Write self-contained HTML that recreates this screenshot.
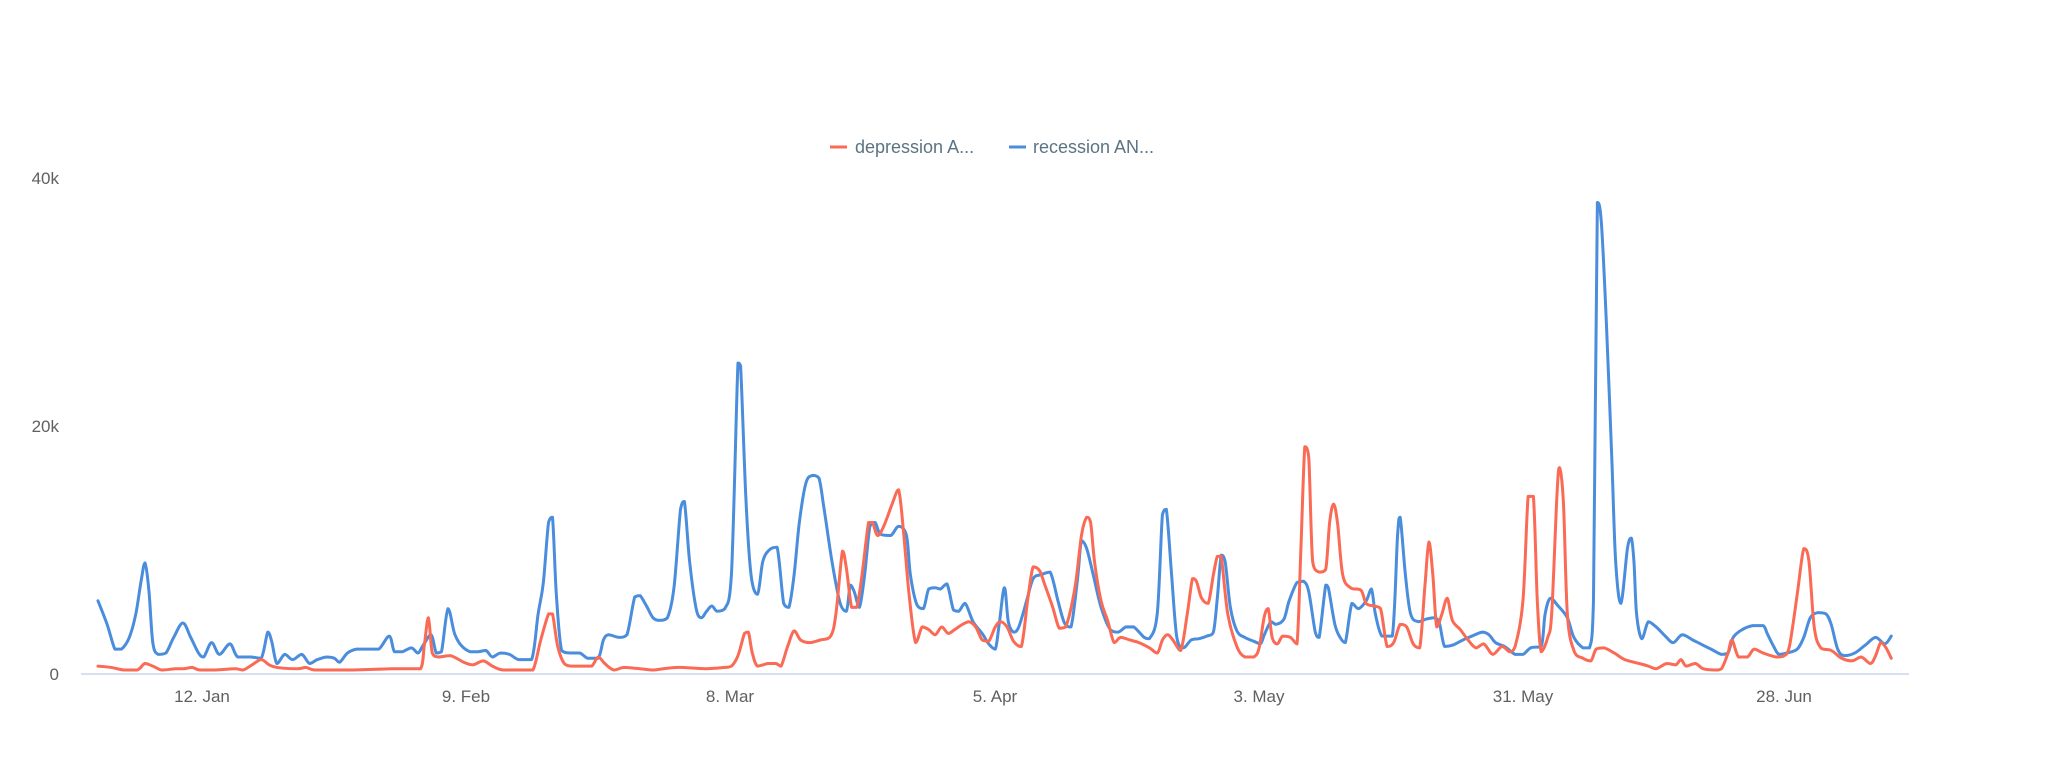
<!DOCTYPE html>
<html><head><meta charset="utf-8"><style>
html,body{margin:0;padding:0;background:#fff;}
svg{display:block;font-family:"Liberation Sans","DejaVu Sans",sans-serif;}
</style></head><body>
<svg id="s" width="2048" height="774" viewBox="0 0 2048 774" xmlns="http://www.w3.org/2000/svg">
<rect width="2048" height="774" fill="#fff"/>
<g font-size="17" fill="#606060">
<text x="59" y="184" text-anchor="end">40k</text>
<text x="59" y="432" text-anchor="end">20k</text>
<text x="59" y="680" text-anchor="end">0</text>
</g>
<line x1="81" y1="674" x2="1909" y2="674" stroke="#ccd6eb" stroke-width="1.5"/>
<g font-size="17" fill="#606060" text-anchor="middle">
<text x="202" y="702">12. Jan</text>
<text x="466" y="702">9. Feb</text>
<text x="730" y="702">8. Mar</text>
<text x="995" y="702">5. Apr</text>
<text x="1259" y="702">3. May</text>
<text x="1523" y="702">31. May</text>
<text x="1784" y="702">28. Jun</text>
</g>
<g font-size="18" fill="#5b7383">
<line x1="830" y1="147" x2="847" y2="147" stroke="#fa6a55" stroke-width="3"/>
<text x="855" y="153">depression A...</text>
<line x1="1009" y1="147" x2="1026" y2="147" stroke="#4a8ddc" stroke-width="3"/>
<text x="1033" y="153">recession AN...</text>
</g>
<g transform="scale(1.30612)" fill="none" stroke-width="2.3" stroke-linejoin="round" stroke-linecap="round">
<path id="b" stroke="#4a8ddc"/>
<path id="r" stroke="#fa6a55"/>
</g>
</svg>
<script>
var B=[75,460,82,478,88,497,93,497,99,488,104,470,108,445,111,431,114,452,117,492,121,501,127,500,133,488,140,477,146,488,152,500,156,503,162,492,168,501,176,493,182,503,192,503,200,504,205,484,208,491,212,508,218,501,224,505,231,501,237,508,243,505,250,503,256,504,260,507,266,500,273,497,282,497,290,497,298,487,302,499,308,499,315,496,320,500,324,494,330,486,334,500,338,499,343,466,348,485,353,494,360,499,366,499,372,498,377,503,383,500,390,501,397,505,407,505,412,470,416,446,420,400,423,396,426,456,430,498,437,500,444,500,450,504,458,504,462,490,466,486,474,488,480,486,486,457,490,456,495,464,500,473,505,475,511,473,516,450,521,390,524,384,528,430,533,466,537,473,541,468,545,464,549,468,555,466,560,440,565,278,567,280,571,380,575,440,580,455,584,430,589,421,595,419,600,462,604,465,608,440,612,400,617,370,622,364,627,366,631,390,637,430,643,461,648,468,651,448,654,453,658,465,662,440,666,403,670,400,674,409,682,410,688,403,694,410,697,440,702,463,707,466,711,451,716,450,720,451,725,447,730,467,734,468,739,462,745,476,752,485,757,493,762,497,765,478,769,450,772,476,776,484,780,480,786,460,791,443,797,440,804,438,810,460,815,477,820,480,825,443,828,414,832,420,837,440,843,465,850,482,856,484,862,480,868,480,876,488,880,489,886,470,890,394,893,390,897,440,901,488,906,496,912,490,918,489,924,487,929,484,932,458,935,425,938,430,942,465,947,483,953,488,960,491,965,493,968,486,973,476,977,478,983,474,987,460,993,446,998,445,1002,453,1007,484,1010,488,1015,448,1017,450,1022,478,1026,488,1030,492,1035,462,1040,466,1046,460,1050,451,1053,470,1058,487,1066,487,1070,410,1072,396,1076,440,1080,470,1086,476,1092,474,1098,473,1102,477,1106,495,1112,494,1120,490,1127,487,1135,484,1140,486,1145,492,1152,495,1160,501,1166,501,1172,496,1180,495,1183,470,1187,458,1193,464,1200,473,1205,488,1212,496,1217,496,1220,460,1223,155,1226,170,1230,250,1234,350,1237,430,1241,462,1246,420,1249,412,1251,430,1253,470,1257,489,1262,476,1268,480,1275,487,1281,492,1288,486,1296,490,1302,493,1310,497,1318,501,1323,500,1327,488,1334,482,1342,479,1350,479,1353,485,1358,495,1362,501,1368,500,1376,497,1381,488,1386,473,1392,469,1398,470,1402,478,1407,497,1412,502,1420,500,1428,494,1436,488,1443,493,1448,487];
var R=[75,510,85,511,95,513,105,513,111,508,117,510,124,513,134,512,141,512,147,511,153,513,165,513,180,512,186,513,193,509,200,505,206,509,212,511,228,512,234,511,241,513,258,513,270,513,300,512,312,512,322,512,325,493,328,473,331,500,336,503,345,502,355,507,362,509,370,506,377,510,385,513,400,513,408,513,414,490,420,470,423,470,427,495,432,508,438,510,446,510,453,510,458,503,463,508,470,513,478,511,490,512,500,513,508,512,520,511,540,512,555,511,560,510,565,502,570,485,573,484,576,500,580,510,588,508,594,508,598,510,603,495,608,483,613,490,620,492,628,490,636,487,640,470,645,422,648,435,652,465,656,465,660,440,665,400,668,400,672,410,677,402,683,386,688,375,692,410,696,455,701,492,706,480,711,482,716,486,721,480,726,485,731,482,737,478,742,476,747,480,752,490,757,491,762,480,766,476,771,480,776,491,782,495,787,458,791,434,796,437,800,448,806,465,811,481,816,480,823,450,828,410,832,396,835,400,838,430,843,460,848,475,853,492,858,488,865,490,872,492,880,496,886,500,890,490,894,486,898,490,904,498,909,470,913,443,916,445,920,458,925,462,929,440,932,426,935,426,940,470,947,495,953,503,960,503,964,496,968,472,971,466,974,488,978,493,982,487,988,488,993,493,996,420,999,342,1002,350,1005,430,1010,438,1015,436,1018,400,1021,386,1024,400,1028,440,1034,450,1042,452,1046,462,1052,464,1057,466,1062,495,1067,492,1072,478,1077,480,1082,493,1087,496,1091,448,1094,415,1097,440,1100,480,1104,470,1108,458,1112,475,1118,482,1124,490,1130,496,1136,493,1143,501,1150,495,1156,499,1160,495,1166,460,1170,380,1174,380,1177,460,1180,499,1185,488,1188,470,1192,380,1194,358,1197,385,1200,470,1205,498,1212,504,1218,506,1222,497,1228,496,1236,500,1244,505,1255,508,1262,510,1268,512,1276,508,1283,509,1287,505,1291,510,1298,508,1304,512,1313,513,1318,512,1323,500,1326,490,1331,503,1338,503,1343,497,1350,500,1360,503,1366,502,1370,495,1376,455,1381,420,1385,430,1389,480,1394,496,1402,498,1410,504,1418,506,1425,503,1432,508,1436,502,1440,492,1444,496,1448,504];
function cl(v,a,b){var lo=Math.min(a,b),hi=Math.max(a,b);return v<lo?lo:(v>hi?hi:v);}
function path(a){var p=[];for(var i=0;i<a.length;i+=2)p.push([a[i],a[i+1]]);
var d="M"+p[0][0]+","+p[0][1];
for(var i=0;i<p.length-1;i++){var p0=p[i>0?i-1:i],p1=p[i],p2=p[i+1],p3=p[i+2<p.length?i+2:i+1];
var c1x=p1[0]+(p2[0]-p0[0])/6,c1y=p1[1]+(p2[1]-p0[1])/6,c2x=p2[0]-(p3[0]-p1[0])/6,c2y=p2[1]-(p3[1]-p1[1])/6;
c1y=cl(c1y,p1[1],p2[1]);c2y=cl(c2y,p1[1],p2[1]);
d+=" C"+c1x.toFixed(1)+","+c1y.toFixed(1)+" "+c2x.toFixed(1)+","+c2y.toFixed(1)+" "+p2[0]+","+p2[1];}
return d;}
document.getElementById("b").setAttribute("d",path(B));
document.getElementById("r").setAttribute("d",path(R));
</script>
</body></html>
